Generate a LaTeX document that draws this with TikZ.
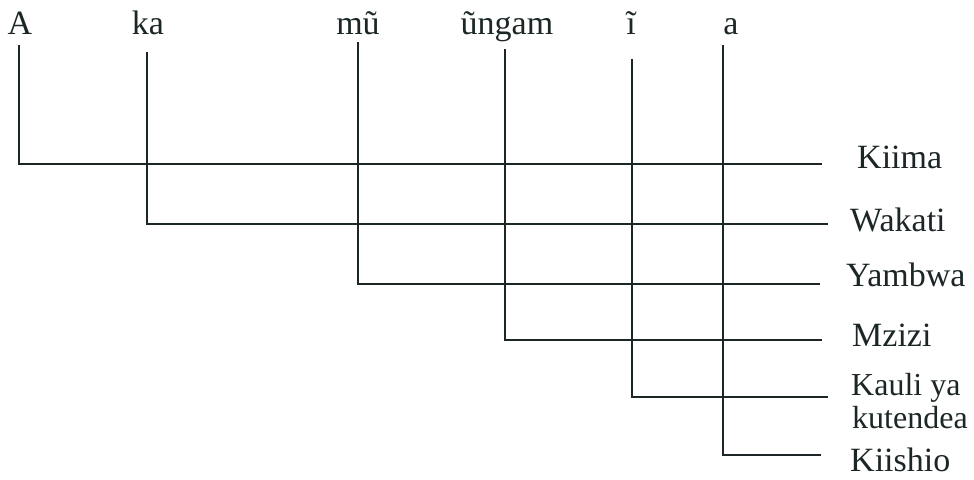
\documentclass[tikz,border=0pt]{standalone}
\usepackage{fontspec}
\setmainfont{Liberation Serif}
\definecolor{ink}{RGB}{28,38,38}
\begin{document}
\begin{tikzpicture}[x=1pt,y=1pt,
  toplabel/.style={anchor=base,inner sep=0pt,text=ink,font=\fontsize{34}{36}\selectfont},
  rightlabel/.style={anchor=base west,inner sep=0pt,text=ink,font=\fontsize{34}{36}\selectfont},
  smalllabel/.style={anchor=base west,inner sep=0pt,text=ink,font=\fontsize{32}{34}\selectfont},
  tree/.style={draw=ink,line width=1.3pt}]
\useasboundingbox (0,0) rectangle (974,479);
% top morphemes
\node[toplabel] (A) at (20,444) {A};
\node[toplabel] (ka) at (148,444) {ka};
\node[toplabel] (mu) at (358,444) {mũ};
\node[toplabel] (ungam) at (507,444) {ũngam};
\node[toplabel] (i) at (631,444) {ĩ};
\node[toplabel] (a) at (731,444) {a};
% right labels
\node[rightlabel] (kiima) at (857,310) {Kiima};
\node[rightlabel] (wakati) at (850,247) {Wakati};
\node[rightlabel] (yambwa) at (846,192) {Yambwa};
\node[rightlabel] (mzizi) at (852,132) {Mzizi};
\node[smalllabel] (kauli) at (851,83) {Kauli ya};
\node[smalllabel] (kutendea) at (852,50) {kutendea};
\node[rightlabel] (kiishio) at (850,8) {Kiishio};
% line tops
\coordinate (tA) at (19,434);
\coordinate (tka) at (147,427);
\coordinate (tmu) at (358,437);
\coordinate (tungam) at (505,430);
\coordinate (ti) at (632,420);
\coordinate (ta) at (723,434);
% corners
\coordinate (cA) at (19,315);
\coordinate (cka) at (147,255);
\coordinate (cmu) at (358,195);
\coordinate (cungam) at (505,139);
\coordinate (ci) at (632,82);
\coordinate (ca) at (723,24);
% line ends
\coordinate (eA) at (822,315);
\coordinate (eka) at (828,255);
\coordinate (emu) at (820,195);
\coordinate (eungam) at (822,139);
\coordinate (ei) at (828,82);
\coordinate (ea) at (821,24);
\draw[tree] (tA) -- (cA) -- (eA);
\draw[tree] (tka) -- (cka) -- (eka);
\draw[tree] (tmu) -- (cmu) -- (emu);
\draw[tree] (tungam) -- (cungam) -- (eungam);
\draw[tree] (ti) -- (ci) -- (ei);
\draw[tree] (ta) -- (ca) -- (ea);
\end{tikzpicture}
\end{document}
